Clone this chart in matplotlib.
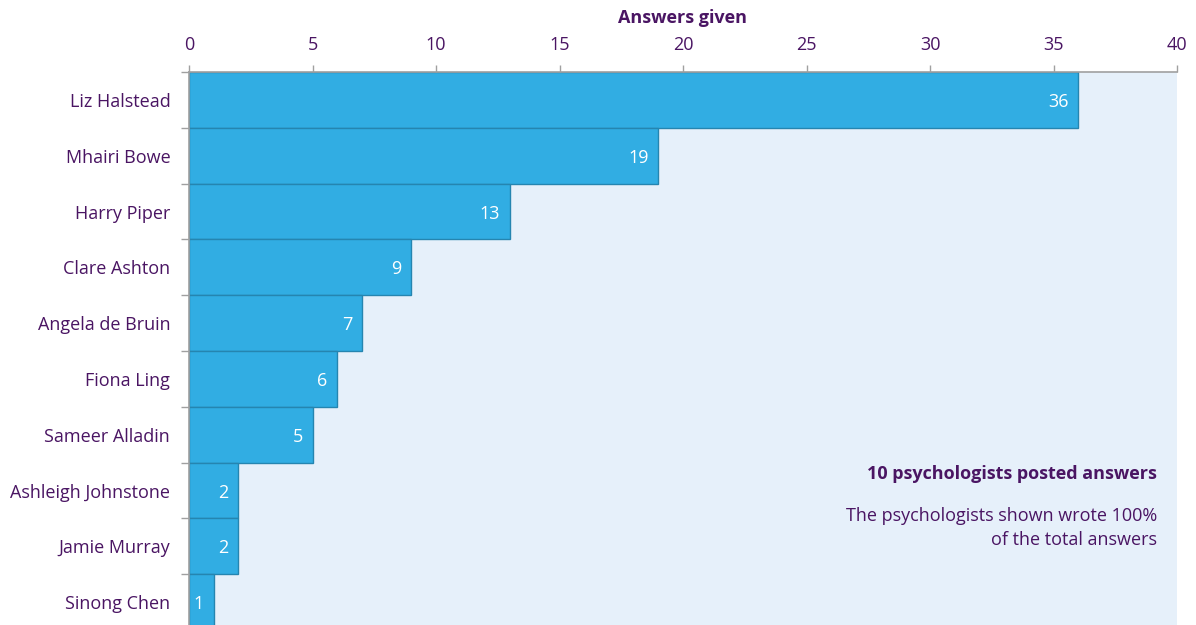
import matplotlib
matplotlib.use("Agg")
import matplotlib.pyplot as plt
import numpy as np

plt.rcParams['font.family'] = ['Open Sans', 'DejaVu Sans']

names = ["Liz Halstead", "Mhairi Bowe", "Harry Piper", "Clare Ashton", "Angela de Bruin",
         "Fiona Ling", "Sameer Alladin", "Ashleigh Johnstone", "Jamie Murray", "Sinong Chen"]
answers = [36, 19, 13, 9, 7, 6, 5, 2, 2, 1]
xticks = [0, 5, 10, 15, 20, 25, 30, 35, 40]

purple = "#4a1563"
bar_col = "#31ade3"
edge_col = "#2585b0"
bg_col = "#e6f0fa"
grey = "#a0a0a0"
fs = 13

fig = plt.figure(figsize=(11.96, 6.25), dpi=100)
ax = fig.add_axes([189/1196, 0, (1177-189)/1196, 1 - 72/625])
ax.set_facecolor(bg_col)

y = np.arange(len(names))
ax.barh(y, answers, height=1.0, color=bar_col, edgecolor=edge_col, linewidth=1.0)

for yi, v in zip(y, answers):
    ax.text(v - 0.4, yi, str(v), ha='right', va='center_baseline', color='white', fontsize=fs)

ax.set_xlim(0, 40)
ax.set_ylim(9.41, -0.5)

ax.xaxis.tick_top()
ax.xaxis.set_label_position('top')
ax.set_xticks(xticks)
ax.set_xticklabels([str(t) for t in xticks])
ax.set_xlabel("Answers given", fontsize=fs, fontweight='bold', color=purple, labelpad=9)
ax.tick_params(axis='x', colors=grey, labelcolor=purple, labelsize=fs, length=5, width=1, pad=8)

ax.set_yticks(y)
ax.set_yticklabels(names)
ax.tick_params(axis='y', which='major', length=0, labelsize=fs, labelcolor=purple, pad=13.5)
ax.set_yticks(np.arange(-0.5, 9.5, 1.0), minor=True)
ax.tick_params(axis='y', which='minor', length=6, width=1, colors=grey)

for s in ['right', 'bottom']:
    ax.spines[s].set_visible(False)
for s in ['top', 'left']:
    ax.spines[s].set_color(grey)
    ax.spines[s].set_linewidth(1.2)

fig.text(1157/1196, 1 - 474/625, "10 psychologists posted answers", ha='right', va='center',
         fontsize=fs, fontweight='bold', color=purple)
fig.text(1157/1196, 1 - 528/625, "The psychologists shown wrote 100%\nof the total answers", ha='right',
         va='center', fontsize=fs, color=purple, linespacing=1.4)

fig.savefig("out.png", dpi=100)
